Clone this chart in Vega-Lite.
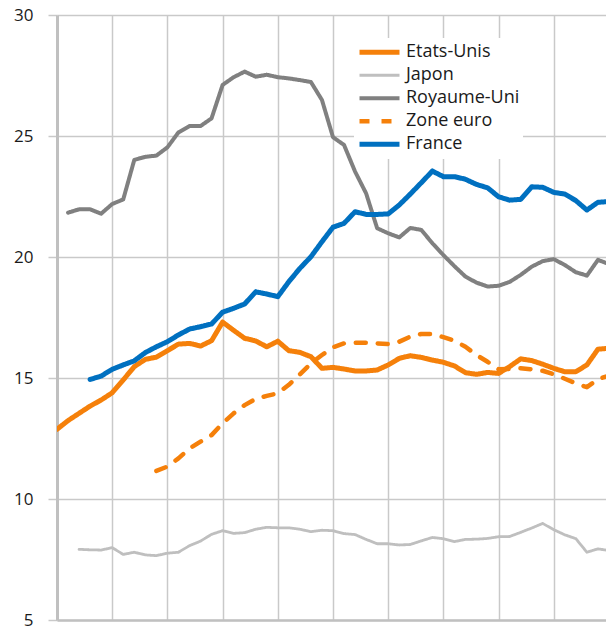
{
  "$schema": "https://vega.github.io/schema/vega-lite/v6.json",
  "width": 549,
  "height": 605,
  "autosize": {"type": "none"},
  "padding": {"left": 57, "top": 15, "right": 0, "bottom": 10},
  "background": "white",
  "config": {
    "view": {"stroke": null},
    "font": "Open Sans",
    "legend": {
      "title": null, "orient": "none", "legendX": 297, "legendY": 23,
      "fillColor": "white", "padding": 3,
      "symbolType": "stroke", "symbolSize": 1600,
      "labelFont": "Open Sans", "labelFontSize": 18, "labelColor": "#1a1a1a",
      "labelOffset": 4, "rowPadding": 0, "clipHeight": 22.5
    }
  },
  "data": {
    "values": [
      {"t":0,"s":"Etats-Unis","v":12.88},{"t":1,"s":"Etats-Unis","v":13.24},{"t":2,"s":"Etats-Unis","v":13.54},{"t":3,"s":"Etats-Unis","v":13.84},{"t":4,"s":"Etats-Unis","v":14.09},{"t":5,"s":"Etats-Unis","v":14.39},{"t":6,"s":"Etats-Unis","v":14.92},{"t":7,"s":"Etats-Unis","v":15.47},{"t":8,"s":"Etats-Unis","v":15.77},{"t":9,"s":"Etats-Unis","v":15.86},{"t":10,"s":"Etats-Unis","v":16.13},{"t":11,"s":"Etats-Unis","v":16.40},{"t":12,"s":"Etats-Unis","v":16.43},{"t":13,"s":"Etats-Unis","v":16.32},{"t":14,"s":"Etats-Unis","v":16.54},{"t":15,"s":"Etats-Unis","v":17.31},{"t":16,"s":"Etats-Unis","v":16.97},{"t":17,"s":"Etats-Unis","v":16.64},{"t":18,"s":"Etats-Unis","v":16.53},{"t":19,"s":"Etats-Unis","v":16.29},{"t":20,"s":"Etats-Unis","v":16.52},{"t":21,"s":"Etats-Unis","v":16.13},{"t":22,"s":"Etats-Unis","v":16.06},{"t":23,"s":"Etats-Unis","v":15.88},{"t":24,"s":"Etats-Unis","v":15.40},{"t":25,"s":"Etats-Unis","v":15.44},{"t":26,"s":"Etats-Unis","v":15.37},{"t":27,"s":"Etats-Unis","v":15.29},{"t":28,"s":"Etats-Unis","v":15.29},{"t":29,"s":"Etats-Unis","v":15.33},{"t":30,"s":"Etats-Unis","v":15.54},{"t":31,"s":"Etats-Unis","v":15.81},{"t":32,"s":"Etats-Unis","v":15.92},{"t":33,"s":"Etats-Unis","v":15.85},{"t":34,"s":"Etats-Unis","v":15.74},{"t":35,"s":"Etats-Unis","v":15.65},{"t":36,"s":"Etats-Unis","v":15.50},{"t":37,"s":"Etats-Unis","v":15.22},{"t":38,"s":"Etats-Unis","v":15.15},{"t":39,"s":"Etats-Unis","v":15.23},{"t":40,"s":"Etats-Unis","v":15.19},{"t":41,"s":"Etats-Unis","v":15.47},{"t":42,"s":"Etats-Unis","v":15.79},{"t":43,"s":"Etats-Unis","v":15.72},{"t":44,"s":"Etats-Unis","v":15.57},{"t":45,"s":"Etats-Unis","v":15.40},{"t":46,"s":"Etats-Unis","v":15.26},{"t":47,"s":"Etats-Unis","v":15.26},{"t":48,"s":"Etats-Unis","v":15.54},{"t":49,"s":"Etats-Unis","v":16.19},{"t":50,"s":"Etats-Unis","v":16.23},
      {"t":2,"s":"Japon","v":7.92},{"t":3,"s":"Japon","v":7.90},{"t":4,"s":"Japon","v":7.89},{"t":5,"s":"Japon","v":7.99},{"t":6,"s":"Japon","v":7.71},{"t":7,"s":"Japon","v":7.80},{"t":8,"s":"Japon","v":7.69},{"t":9,"s":"Japon","v":7.66},{"t":10,"s":"Japon","v":7.76},{"t":11,"s":"Japon","v":7.80},{"t":12,"s":"Japon","v":8.07},{"t":13,"s":"Japon","v":8.26},{"t":14,"s":"Japon","v":8.54},{"t":15,"s":"Japon","v":8.69},{"t":16,"s":"Japon","v":8.58},{"t":17,"s":"Japon","v":8.61},{"t":18,"s":"Japon","v":8.75},{"t":19,"s":"Japon","v":8.83},{"t":20,"s":"Japon","v":8.81},{"t":21,"s":"Japon","v":8.81},{"t":22,"s":"Japon","v":8.75},{"t":23,"s":"Japon","v":8.65},{"t":24,"s":"Japon","v":8.71},{"t":25,"s":"Japon","v":8.69},{"t":26,"s":"Japon","v":8.57},{"t":27,"s":"Japon","v":8.53},{"t":28,"s":"Japon","v":8.33},{"t":29,"s":"Japon","v":8.15},{"t":30,"s":"Japon","v":8.15},{"t":31,"s":"Japon","v":8.10},{"t":32,"s":"Japon","v":8.12},{"t":33,"s":"Japon","v":8.27},{"t":34,"s":"Japon","v":8.41},{"t":35,"s":"Japon","v":8.36},{"t":36,"s":"Japon","v":8.24},{"t":37,"s":"Japon","v":8.33},{"t":38,"s":"Japon","v":8.34},{"t":39,"s":"Japon","v":8.37},{"t":40,"s":"Japon","v":8.44},{"t":41,"s":"Japon","v":8.45},{"t":42,"s":"Japon","v":8.62},{"t":43,"s":"Japon","v":8.80},{"t":44,"s":"Japon","v":8.99},{"t":45,"s":"Japon","v":8.73},{"t":46,"s":"Japon","v":8.52},{"t":47,"s":"Japon","v":8.36},{"t":48,"s":"Japon","v":7.80},{"t":49,"s":"Japon","v":7.94},{"t":50,"s":"Japon","v":7.87},
      {"t":1,"s":"Royaume-Uni","v":21.83},{"t":2,"s":"Royaume-Uni","v":21.97},{"t":3,"s":"Royaume-Uni","v":21.97},{"t":4,"s":"Royaume-Uni","v":21.79},{"t":5,"s":"Royaume-Uni","v":22.19},{"t":6,"s":"Royaume-Uni","v":22.38},{"t":7,"s":"Royaume-Uni","v":24.01},{"t":8,"s":"Royaume-Uni","v":24.14},{"t":9,"s":"Royaume-Uni","v":24.19},{"t":10,"s":"Royaume-Uni","v":24.53},{"t":11,"s":"Royaume-Uni","v":25.15},{"t":12,"s":"Royaume-Uni","v":25.41},{"t":13,"s":"Royaume-Uni","v":25.41},{"t":14,"s":"Royaume-Uni","v":25.73},{"t":15,"s":"Royaume-Uni","v":27.11},{"t":16,"s":"Royaume-Uni","v":27.43},{"t":17,"s":"Royaume-Uni","v":27.66},{"t":18,"s":"Royaume-Uni","v":27.45},{"t":19,"s":"Royaume-Uni","v":27.53},{"t":20,"s":"Royaume-Uni","v":27.43},{"t":21,"s":"Royaume-Uni","v":27.38},{"t":22,"s":"Royaume-Uni","v":27.31},{"t":23,"s":"Royaume-Uni","v":27.23},{"t":24,"s":"Royaume-Uni","v":26.49},{"t":25,"s":"Royaume-Uni","v":24.95},{"t":26,"s":"Royaume-Uni","v":24.63},{"t":27,"s":"Royaume-Uni","v":23.53},{"t":28,"s":"Royaume-Uni","v":22.63},{"t":29,"s":"Royaume-Uni","v":21.19},{"t":30,"s":"Royaume-Uni","v":20.98},{"t":31,"s":"Royaume-Uni","v":20.81},{"t":32,"s":"Royaume-Uni","v":21.20},{"t":33,"s":"Royaume-Uni","v":21.12},{"t":34,"s":"Royaume-Uni","v":20.57},{"t":35,"s":"Royaume-Uni","v":20.08},{"t":36,"s":"Royaume-Uni","v":19.62},{"t":37,"s":"Royaume-Uni","v":19.19},{"t":38,"s":"Royaume-Uni","v":18.94},{"t":39,"s":"Royaume-Uni","v":18.78},{"t":40,"s":"Royaume-Uni","v":18.81},{"t":41,"s":"Royaume-Uni","v":18.97},{"t":42,"s":"Royaume-Uni","v":19.26},{"t":43,"s":"Royaume-Uni","v":19.60},{"t":44,"s":"Royaume-Uni","v":19.83},{"t":45,"s":"Royaume-Uni","v":19.91},{"t":46,"s":"Royaume-Uni","v":19.67},{"t":47,"s":"Royaume-Uni","v":19.37},{"t":48,"s":"Royaume-Uni","v":19.23},{"t":49,"s":"Royaume-Uni","v":19.88},{"t":50,"s":"Royaume-Uni","v":19.71},
      {"t":9,"s":"Zone euro","v":11.16},{"t":10,"s":"Zone euro","v":11.34},{"t":11,"s":"Zone euro","v":11.68},{"t":12,"s":"Zone euro","v":12.09},{"t":13,"s":"Zone euro","v":12.37},{"t":14,"s":"Zone euro","v":12.64},{"t":15,"s":"Zone euro","v":13.13},{"t":16,"s":"Zone euro","v":13.54},{"t":17,"s":"Zone euro","v":13.88},{"t":18,"s":"Zone euro","v":14.14},{"t":19,"s":"Zone euro","v":14.26},{"t":20,"s":"Zone euro","v":14.37},{"t":21,"s":"Zone euro","v":14.72},{"t":22,"s":"Zone euro","v":15.15},{"t":23,"s":"Zone euro","v":15.60},{"t":24,"s":"Zone euro","v":15.95},{"t":25,"s":"Zone euro","v":16.27},{"t":26,"s":"Zone euro","v":16.43},{"t":27,"s":"Zone euro","v":16.46},{"t":28,"s":"Zone euro","v":16.46},{"t":29,"s":"Zone euro","v":16.43},{"t":30,"s":"Zone euro","v":16.40},{"t":31,"s":"Zone euro","v":16.50},{"t":32,"s":"Zone euro","v":16.71},{"t":33,"s":"Zone euro","v":16.82},{"t":34,"s":"Zone euro","v":16.82},{"t":35,"s":"Zone euro","v":16.69},{"t":36,"s":"Zone euro","v":16.54},{"t":37,"s":"Zone euro","v":16.29},{"t":38,"s":"Zone euro","v":15.95},{"t":39,"s":"Zone euro","v":15.67},{"t":40,"s":"Zone euro","v":15.36},{"t":41,"s":"Zone euro","v":15.37},{"t":42,"s":"Zone euro","v":15.40},{"t":43,"s":"Zone euro","v":15.36},{"t":44,"s":"Zone euro","v":15.30},{"t":45,"s":"Zone euro","v":15.15},{"t":46,"s":"Zone euro","v":14.97},{"t":47,"s":"Zone euro","v":14.78},{"t":48,"s":"Zone euro","v":14.62},{"t":49,"s":"Zone euro","v":14.95},{"t":50,"s":"Zone euro","v":15.10},
      {"t":3,"s":"France","v":14.94},{"t":4,"s":"France","v":15.08},{"t":5,"s":"France","v":15.36},{"t":6,"s":"France","v":15.54},{"t":7,"s":"France","v":15.71},{"t":8,"s":"France","v":16.05},{"t":9,"s":"France","v":16.29},{"t":10,"s":"France","v":16.50},{"t":11,"s":"France","v":16.78},{"t":12,"s":"France","v":17.02},{"t":13,"s":"France","v":17.12},{"t":14,"s":"France","v":17.23},{"t":15,"s":"France","v":17.72},{"t":16,"s":"France","v":17.88},{"t":17,"s":"France","v":18.06},{"t":18,"s":"France","v":18.56},{"t":19,"s":"France","v":18.47},{"t":20,"s":"France","v":18.36},{"t":21,"s":"France","v":18.98},{"t":22,"s":"France","v":19.53},{"t":23,"s":"France","v":20.01},{"t":24,"s":"France","v":20.63},{"t":25,"s":"France","v":21.23},{"t":26,"s":"France","v":21.39},{"t":27,"s":"France","v":21.87},{"t":28,"s":"France","v":21.76},{"t":29,"s":"France","v":21.76},{"t":30,"s":"France","v":21.78},{"t":31,"s":"France","v":22.15},{"t":32,"s":"France","v":22.60},{"t":33,"s":"France","v":23.07},{"t":34,"s":"France","v":23.55},{"t":35,"s":"France","v":23.32},{"t":36,"s":"France","v":23.32},{"t":37,"s":"France","v":23.21},{"t":38,"s":"France","v":23.00},{"t":39,"s":"France","v":22.86},{"t":40,"s":"France","v":22.49},{"t":41,"s":"France","v":22.35},{"t":42,"s":"France","v":22.38},{"t":43,"s":"France","v":22.90},{"t":44,"s":"France","v":22.88},{"t":45,"s":"France","v":22.67},{"t":46,"s":"France","v":22.60},{"t":47,"s":"France","v":22.33},{"t":48,"s":"France","v":21.94},{"t":49,"s":"France","v":22.26},{"t":50,"s":"France","v":22.29}
    ]
  },
  "mark": {"type": "line", "clip": true, "strokeCap": "round", "strokeJoin": "round"},
  "encoding": {
    "x": {
      "field": "t", "type": "quantitative",
      "scale": {"domain": [0, 49.73], "nice": false, "zero": false},
      "axis": {
        "title": null, "labels": false, "ticks": false,
        "values": [5, 10, 15, 20, 25, 30, 35, 40, 45],
        "grid": true, "gridColor": "#c9c9c9", "gridWidth": 1.5,
        "domain": true, "domainColor": "#c0c0c0", "domainWidth": 2.5
      }
    },
    "y": {
      "field": "v", "type": "quantitative",
      "scale": {"domain": [5, 30], "nice": false, "zero": false},
      "axis": {
        "title": null,
        "values": [5, 10, 15, 20, 25, 30],
        "grid": true, "gridColor": "#c9c9c9", "gridWidth": 1.5,
        "domain": true, "domainColor": "#c0c0c0", "domainWidth": 3,
        "ticks": true, "tickColor": "#c9c9c9", "tickSize": 9, "tickWidth": 1.5,
        "labelFont": "Open Sans", "labelFontSize": 17, "labelColor": "#1a1a1a",
        "labelPadding": 15
      }
    },
    "color": {
      "field": "s", "type": "nominal",
      "scale": {
        "domain": ["Etats-Unis", "Japon", "Royaume-Uni", "Zone euro", "France"],
        "range": ["#F5800A", "#BFBFBF", "#808080", "#F5800A", "#0070C0"]
      },
      "legend": {
        "labelExpr": "datum.label == 'Royaume-Uni' ? '\u00a0Royaume-Uni' : datum.label"
      }
    },
    "strokeDash": {
      "field": "s", "type": "nominal",
      "scale": {
        "domain": ["Etats-Unis", "Japon", "Royaume-Uni", "Zone euro", "France"],
        "range": [[1, 0], [1, 0], [1, 0], [10, 12], [1, 0]]
      },
      "legend": {
        "labelExpr": "datum.label == 'Royaume-Uni' ? '\u00a0Royaume-Uni' : datum.label"
      }
    },
    "strokeWidth": {
      "field": "s", "type": "nominal",
      "scale": {
        "type": "ordinal",
        "domain": ["Etats-Unis", "Japon", "Royaume-Uni", "Zone euro", "France"],
        "range": [5, 2.8, 4, 4.5, 5]
      },
      "legend": {
        "labelExpr": "datum.label == 'Royaume-Uni' ? '\u00a0Royaume-Uni' : datum.label"
      }
    }
  }
}
